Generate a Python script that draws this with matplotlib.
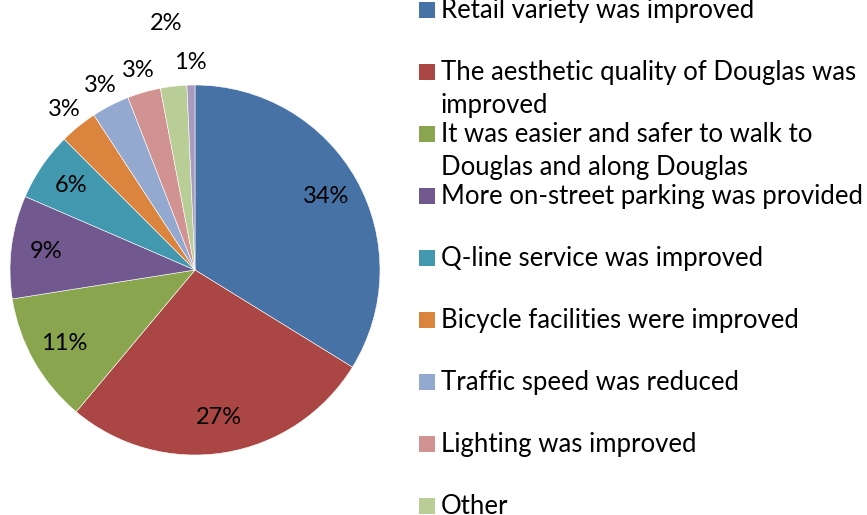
import matplotlib.pyplot as plt
import numpy as np
from matplotlib.patches import Rectangle

categories = [
    "Retail variety was improved",
    "The aesthetic quality of Douglas was\nimproved",
    "It was easier and safer to walk to\nDouglas and along Douglas",
    "More on-street parking was provided",
    "Q-line service was improved",
    "Bicycle facilities were improved",
    "Traffic speed was reduced",
    "Lighting was improved",
    "Other",
    "",
]
values = [33.8, 27.3, 11.4, 9.0, 6.0, 3.3, 3.3, 2.9, 2.3, 0.7]
pct_labels = ["34%", "27%", "11%", "9%", "6%", "3%", "3%", "3%", "2%", "1%"]
colors = ["#4672A6", "#AA4644", "#89A54E", "#71588F", "#4198AF",
          "#DB843D", "#93A9CF", "#D19392", "#B9CD96", "#A99BBD"]

plt.rcParams['font.family'] = ['Lato', 'DejaVu Sans']

W, H = 867, 515
fig = plt.figure(figsize=(W / 100, H / 100), dpi=100)

# pie: centre (195, 270) px, radius 185 px
cx, cy, r = 195, 270, 185
ax = fig.add_axes([(cx - r) / W, (H - cy - r) / H, 2 * r / W, 2 * r / H])
ax.pie(values, colors=colors, startangle=90, counterclock=False,
       wedgeprops=dict(edgecolor='white', linewidth=0.4))
ax.set_xlim(-1, 1)
ax.set_ylim(-1, 1)
ax.set_aspect('equal')
ax.axis('off')

# data labels, inside for big slices, outside for small ones
extra = {8: 0.22}
cum = np.cumsum(values) - np.array(values) / 2
total = sum(values)
for i, (v, lab) in enumerate(zip(values, pct_labels)):
    ang = np.deg2rad(90 - cum[i] / total * 360)
    d = 0.81 if v >= 5 else 1.12
    d += extra.get(i, 0)
    ax.text(d * np.cos(ang), d * np.sin(ang), lab, ha='center', va='center',
            fontsize=17, color='black')

# legend (square sits on the first line of each entry)
sq = 16
for i, (name, col) in enumerate(zip(categories, colors)):
    base = 18 + 62 * i
    if not name or base > H + 20:
        continue
    fig.patches.append(Rectangle((419 / W, (H - base) / H), sq / W, sq / H,
                                 transform=fig.transFigure, facecolor=col,
                                 edgecolor='none'))
    for k, line in enumerate(name.split('\n')):
        fig.text(441 / W, (H - base - 33 * k) / H, line, ha='left',
                 va='baseline', fontsize=18.5, color='black')

fig.savefig('out.png', dpi=100)
